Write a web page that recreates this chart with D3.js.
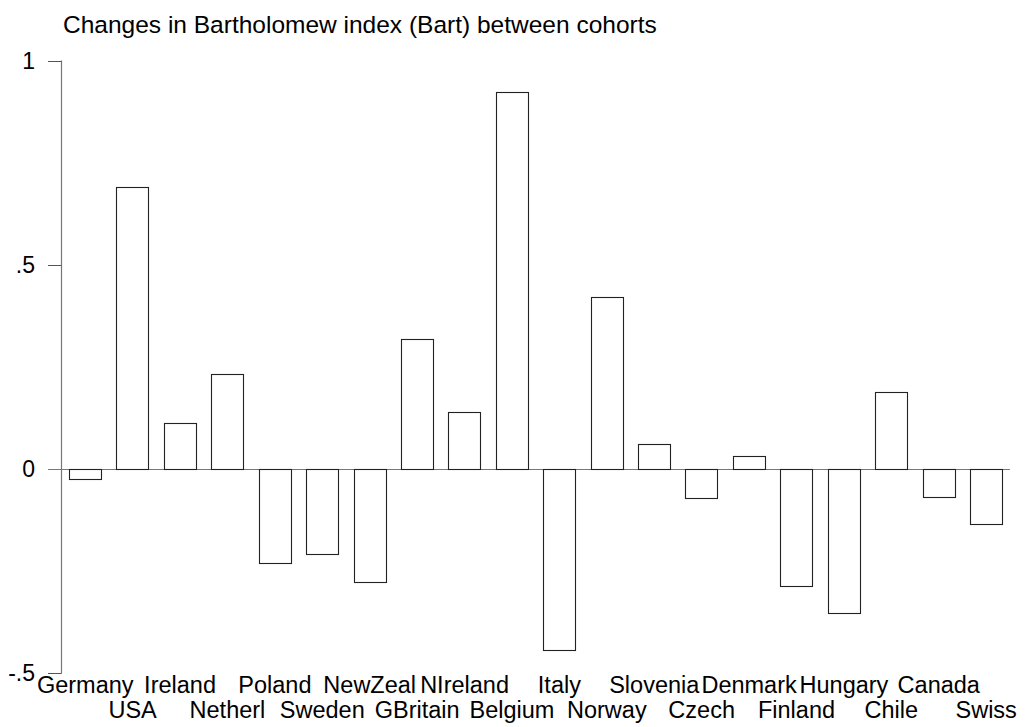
<!DOCTYPE html>
<html>
<head>
<meta charset="utf-8">
<script src="https://cdn.jsdelivr.net/npm/d3@7"></script>
<style>
  body { margin: 0; background: #fff; }
  svg { display: block; }
  text { font-family: "Liberation Sans", Arial, Helvetica, sans-serif; fill: #000; }
</style>
</head>
<body>
<svg id="chart" width="1026" height="727"></svg>
<script>
const countries = ['Germany', 'USA', 'Ireland', 'Netherl', 'Poland', 'Sweden', 'NewZeal', 'GBritain',
  'NIreland', 'Belgium', 'Italy', 'Norway', 'Slovenia', 'Czech', 'Denmark', 'Finland',
  'Hungary', 'Chile', 'Canada', 'Swiss'];
const bartChange = [-0.025, 0.692, 0.113, 0.234, -0.230, -0.208, -0.278, 0.319,
  0.140, 0.925, -0.444, 0.421, 0.062, -0.070, 0.032, -0.286,
  -0.354, 0.189, -0.069, -0.135];
const yTicks = [-0.5, 0, 0.5, 1];
const yTickLabels = ['-.5', '0', '.5', '1'];
const title = 'Changes in Bartholomew index (Bart) between cohorts';

const svg = d3.select('#chart');
const axisX = 61.5;

const x = d3.scaleBand()
  .domain(countries)
  .range([axisX, axisX + 20 * 47.42])
  .paddingInner(0.316)
  .paddingOuter(0.158);

const y = d3.scaleLinear()
  .domain([-0.5, 1])
  .range([673, 61]);

// title
svg.append('text')
  .attr('x', 63)
  .attr('y', 33)
  .style('font-size', '24.5px')
  .text(title);

// y axis
const yAxis = svg.append('g');
yAxis.append('line')
  .attr('x1', axisX).attr('x2', axisX)
  .attr('y1', y(1) - 0.5).attr('y2', y(-0.5) + 0.5)
  .attr('stroke', '#777').attr('stroke-width', 1.2);

yAxis.selectAll('line.tick')
  .data(yTicks)
  .enter().append('line')
  .attr('class', 'tick')
  .attr('x1', 48).attr('x2', axisX)
  .attr('y1', (d) => Math.round(y(d)) + 0.5)
  .attr('y2', (d) => Math.round(y(d)) + 0.5)
  .attr('stroke', '#555').attr('stroke-width', 1);

yAxis.selectAll('text')
  .data(yTicks)
  .enter().append('text')
  .attr('x', 35)
  .attr('y', (d) => y(d))
  .attr('dy', '0.36em')
  .attr('text-anchor', 'end')
  .style('font-size', '23px')
  .text((d, i) => yTickLabels[i]);

// zero line
svg.append('line')
  .attr('x1', 48).attr('x2', x.range()[1])
  .attr('y1', Math.round(y(0)) + 0.5).attr('y2', Math.round(y(0)) + 0.5)
  .attr('stroke', '#777').attr('stroke-width', 1.2);

// bars
svg.selectAll('rect.bar')
  .data(bartChange)
  .enter().append('rect')
  .attr('class', 'bar')
  .attr('x', (d, i) => Math.round(x(countries[i])) + 0.5)
  .attr('y', (d) => Math.round(y(Math.max(0, d))) + 0.5)
  .attr('width', Math.round(x.bandwidth()))
  .attr('height', (d) => Math.round(Math.abs(y(d) - y(0))))
  .attr('fill', '#fff')
  .attr('stroke', '#222')
  .attr('stroke-width', 1.1);

// category labels, alternating rows
svg.selectAll('text.cat')
  .data(countries)
  .enter().append('text')
  .attr('class', 'cat')
  .attr('x', (d) => x(d) + x.bandwidth() / 2)
  .attr('y', (d, i) => i % 2 === 0 ? 693 : 718)
  .attr('text-anchor', 'middle')
  .style('font-size', '23.5px')
  .text((d) => d);
</script>
</body>
</html>
